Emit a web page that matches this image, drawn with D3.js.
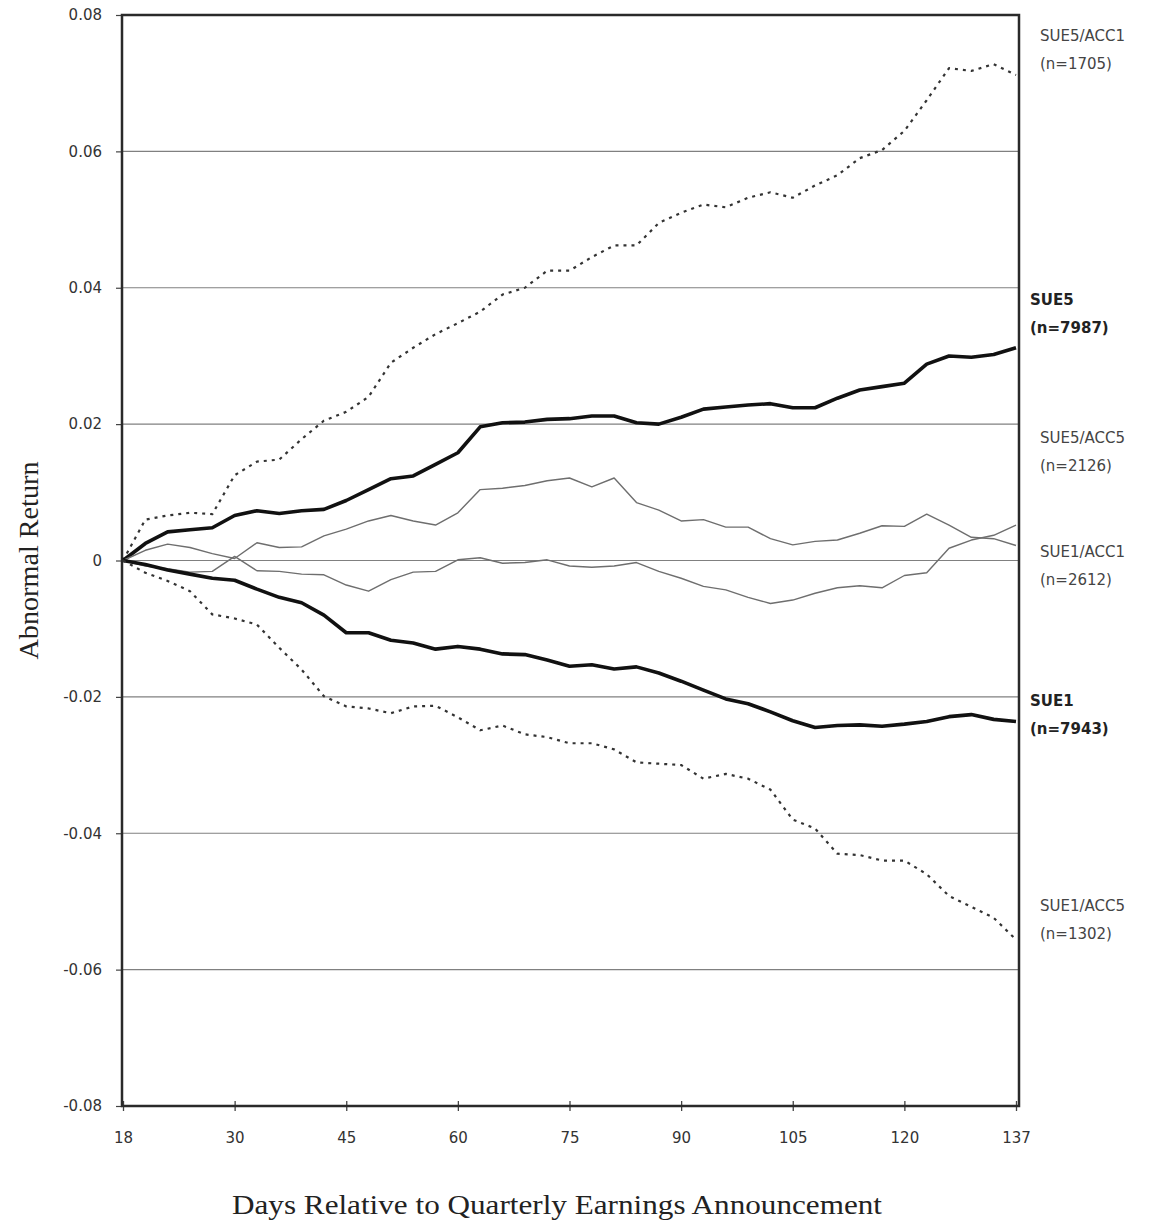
<!DOCTYPE html>
<html>
<head>
<meta charset="utf-8">
<script src="https://cdn.jsdelivr.net/npm/d3@7"></script>
<style>
  html, body { margin: 0; padding: 0; background: #fff; }
  svg { display: block; }
</style>
</head>
<body>
<svg id="chart" width="1160" height="1221"></svg>
<script>
// ---------- DATA ----------
// x position index along the axis (0 = first tick "18", 120 = last tick "137")
const dayIndex = [0,3,6,9,12,15,18,21,24,27,30,33,36,39,42,45,48,51,54,57,60,
                  63,66,69,72,75,78,81,84,87,90,93,96,99,102,105,108,111,114,117,120];
const xTickValues = [0,15,30,45,60,75,90,105,120];
const xTickLabels = ["18","30","45","60","75","90","105","120","137"];
const yTickValues = [0.08,0.06,0.04,0.02,0,-0.02,-0.04,-0.06,-0.08];
const yTickLabels = ["0.08","0.06","0.04","0.02","0","-0.02","-0.04","-0.06","-0.08"];

const sue5acc1 = [0,0.0060,0.0066,0.0070,0.0068,0.0125,0.0145,0.0148,0.0178,0.0205,0.0218,
  0.0240,0.0290,0.0312,0.0332,0.0348,0.0365,0.0390,0.0400,0.0425,0.0425,
  0.0445,0.0462,0.0462,0.0495,0.0510,0.0522,0.0518,0.0532,0.0540,0.0532,
  0.0550,0.0565,0.0590,0.0602,0.0630,0.0675,0.0722,0.0718,0.0728,0.0712];
const sue5 = [0,0.0025,0.0042,0.0045,0.0048,0.0066,0.0073,0.0069,0.0073,0.0075,0.0088,
  0.0104,0.0120,0.0124,0.0141,0.0158,0.0196,0.0202,0.0203,0.0207,0.0208,
  0.0212,0.0212,0.0202,0.0200,0.0210,0.0222,0.0225,0.0228,0.0230,0.0224,
  0.0224,0.0238,0.0250,0.0255,0.0260,0.0288,0.0300,0.0298,0.0302,0.0312];
const sue5acc5 = [0,0.0015,0.0024,0.0019,0.0010,0.0003,0.0026,0.0019,0.0020,0.0036,0.0046,
  0.0058,0.0066,0.0058,0.0052,0.0070,0.0104,0.0106,0.0110,0.0117,0.0121,
  0.0108,0.0121,0.0085,0.0074,0.0058,0.0060,0.0049,0.0049,0.0032,0.0023,
  0.0028,0.0030,0.0040,0.0051,0.0050,0.0068,0.0052,0.0034,0.0032,0.0022];
const sue1acc1 = [0,-0.0008,-0.0012,-0.0017,-0.0016,0.0006,-0.0015,-0.0016,-0.0020,-0.0021,-0.0036,
  -0.0045,-0.0028,-0.0017,-0.0016,0.0001,0.0004,-0.0004,-0.0003,0.0001,-0.0008,
  -0.0010,-0.0008,-0.0003,-0.0016,-0.0026,-0.0038,-0.0043,-0.0054,-0.0063,-0.0058,
  -0.0048,-0.0040,-0.0037,-0.0040,-0.0022,-0.0018,0.0018,0.0030,0.0037,0.0052];
const sue1 = [0,-0.0006,-0.0014,-0.0020,-0.0026,-0.0029,-0.0042,-0.0054,-0.0062,-0.0080,-0.0106,
  -0.0106,-0.0117,-0.0121,-0.0130,-0.0126,-0.0130,-0.0137,-0.0138,-0.0146,-0.0155,
  -0.0153,-0.0159,-0.0156,-0.0165,-0.0177,-0.0190,-0.0203,-0.0210,-0.0222,-0.0235,
  -0.0245,-0.0242,-0.0241,-0.0243,-0.0240,-0.0236,-0.0229,-0.0226,-0.0233,-0.0236];
const sue1acc5 = [0,-0.0018,-0.0030,-0.0045,-0.0079,-0.0085,-0.0094,-0.0128,-0.0160,-0.0199,-0.0214,
  -0.0217,-0.0224,-0.0214,-0.0213,-0.0230,-0.0249,-0.0242,-0.0255,-0.0259,-0.0268,
  -0.0268,-0.0277,-0.0296,-0.0298,-0.0300,-0.0320,-0.0313,-0.0320,-0.0336,-0.0380,
  -0.0393,-0.0430,-0.0432,-0.0440,-0.0440,-0.0460,-0.0492,-0.0508,-0.0524,-0.0556];

const seriesNames = ["SUE5/ACC1","SUE5","SUE5/ACC5","SUE1/ACC1","SUE1","SUE1/ACC5"];
const seriesCounts = ["(n=1705)","(n=7987)","(n=2126)","(n=2612)","(n=7943)","(n=1302)"];
const seriesStyles = ["dotted","thick","thin","thin","thick","dotted"];
const seriesValues = [sue5acc1, sue5, sue5acc5, sue1acc1, sue1, sue1acc5];
// label anchor values (centre of each two-line right-hand label, in data units)
const labelValues = [0.0749, 0.0362, 0.0160, -0.0008, -0.0226, -0.0527];

// ---------- LAYOUT ----------
const svg = d3.select("#chart");
const plot = { left: 122, right: 1019, top: 15, bottom: 1106 };
const x = d3.scaleLinear().domain([0, 120]).range([plot.left + 1, 1016]);
const y = d3.scaleLinear().domain([-0.08, 0.08]).range([plot.bottom, plot.top]);

const sansFont = "'DejaVu Sans', Arial, sans-serif";
const serifFont = "'Liberation Serif', 'Times New Roman', serif";

// gridlines
svg.append("g").selectAll("line")
  .data(yTickValues.filter(v => v > -0.08 && v < 0.08))
  .join("line")
  .attr("x1", plot.left).attr("x2", plot.right)
  .attr("y1", d => y(d)).attr("y2", d => y(d))
  .attr("stroke", "#808080").attr("stroke-width", 1.2);

// y axis
const yAxis = d3.axisLeft(y).tickValues(yTickValues)
  .tickFormat((d, i) => yTickLabels[i]).tickSize(6).tickPadding(14);
const gy = svg.append("g").attr("transform", `translate(${plot.left},0)`).call(yAxis);
gy.select(".domain").remove();
gy.selectAll(".tick line").attr("stroke", "#444").attr("stroke-width", 1.2);
gy.selectAll(".tick text").attr("font-family", sansFont).attr("font-size", 15)
  .attr("fill", "#333");

// x axis
const xAxis = d3.axisBottom(x).tickValues(xTickValues)
  .tickFormat((d, i) => xTickLabels[i]).tickSize(5).tickPadding(21);
const gx = svg.append("g").attr("transform", `translate(0,${plot.bottom})`).call(xAxis);
gx.select(".domain").remove();
gx.selectAll(".tick line").attr("y1", -5).attr("stroke", "#444").attr("stroke-width", 1.3);
gx.selectAll(".tick text").attr("font-family", sansFont).attr("font-size", 15)
  .attr("fill", "#333");

// frame
svg.append("path")
  .attr("d", `M${plot.left},${plot.bottom} L${plot.left},${plot.top} L${plot.right},${plot.top} L${plot.right},${plot.bottom} Z`)
  .attr("fill", "none").attr("stroke", "#2a2a2a").attr("stroke-width", 2.5);

// lines
const line = d3.line().x((d, i) => x(dayIndex[i])).y(d => y(d));
const styleMap = {
  thick:  { stroke: "#111", width: 3.6, dash: null },
  thin:   { stroke: "#6e6e6e", width: 1.4, dash: null },
  dotted: { stroke: "#333", width: 2.2, dash: "3,5" }
};
svg.append("g").selectAll("path")
  .data(seriesValues)
  .join("path")
  .attr("d", d => line(d))
  .attr("fill", "none")
  .attr("stroke", (d, i) => styleMap[seriesStyles[i]].stroke)
  .attr("stroke-width", (d, i) => styleMap[seriesStyles[i]].width)
  .attr("stroke-dasharray", (d, i) => styleMap[seriesStyles[i]].dash)
  .attr("stroke-linejoin", "round");

// right labels
const lg = svg.append("g").selectAll("g")
  .data(seriesNames)
  .join("g")
  .attr("transform", (d, i) => `translate(${seriesStyles[i] === "thick" ? 1030 : 1040},${y(labelValues[i])})`);
lg.append("text")
  .attr("y", -14).attr("dy", "0.35em")
  .attr("font-family", sansFont).attr("font-size", 15)
  .attr("font-weight", (d, i) => seriesStyles[i] === "thick" ? "bold" : "normal")
  .attr("fill", (d, i) => seriesStyles[i] === "thick" ? "#222" : "#444")
  .text(d => d);
lg.append("text")
  .attr("y", 14).attr("dy", "0.35em")
  .attr("font-family", sansFont).attr("font-size", 15)
  .attr("font-weight", (d, i) => seriesStyles[i] === "thick" ? "bold" : "normal")
  .attr("fill", (d, i) => seriesStyles[i] === "thick" ? "#222" : "#444")
  .text((d, i) => seriesCounts[i]);

// axis titles
svg.append("text")
  .attr("transform", `translate(38,${(plot.top + plot.bottom) / 2}) rotate(-90)`)
  .attr("text-anchor", "middle")
  .attr("font-family", serifFont).attr("font-size", 27).attr("fill", "#222")
  .attr("textLength", 198).attr("lengthAdjust", "spacingAndGlyphs")
  .text("Abnormal Return");
svg.append("text")
  .attr("x", 557).attr("y", 1214)
  .attr("text-anchor", "middle")
  .attr("font-family", serifFont).attr("font-size", 27).attr("fill", "#222")
  .attr("textLength", 650).attr("lengthAdjust", "spacingAndGlyphs")
  .text("Days Relative to Quarterly Earnings Announcement");
</script>
</body>
</html>
